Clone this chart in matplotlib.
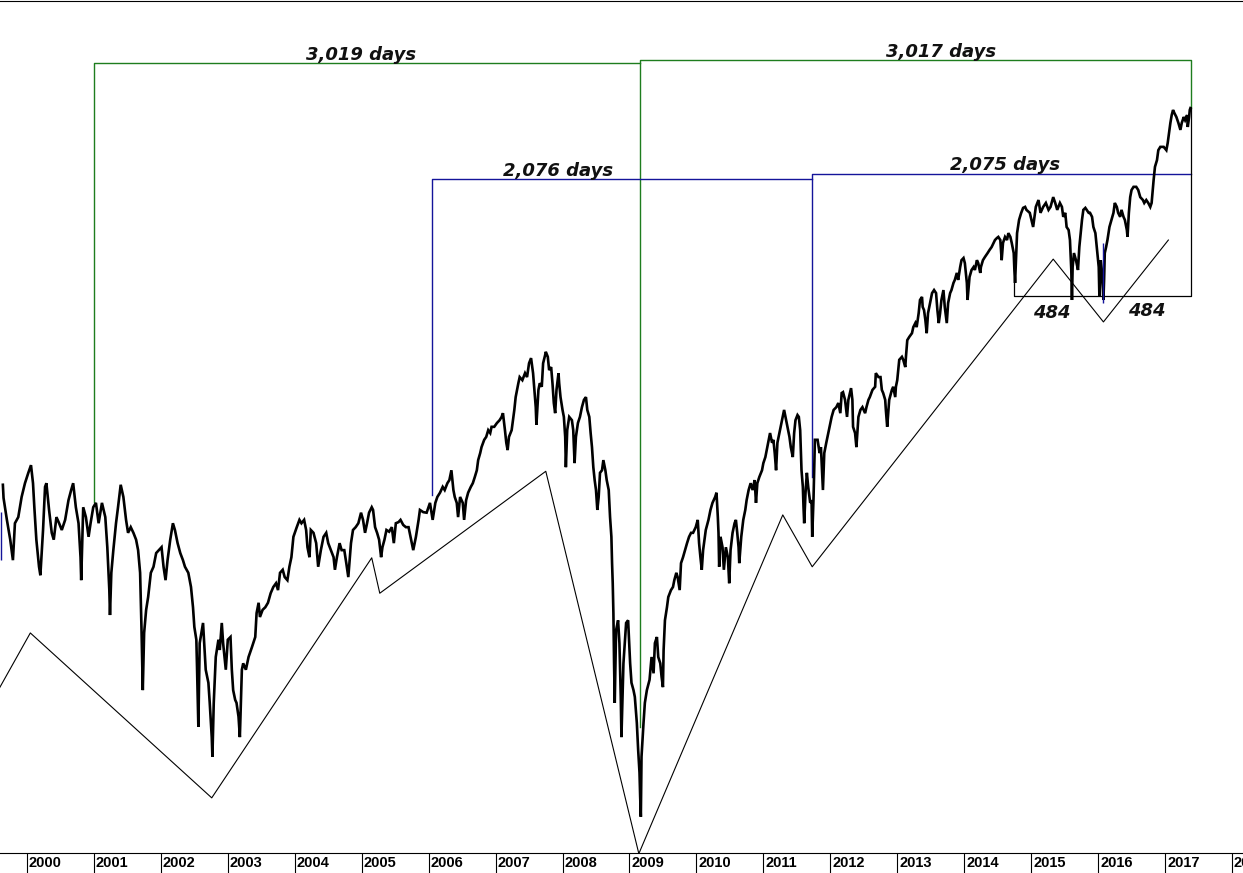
import matplotlib
matplotlib.use("Agg")
import matplotlib.pyplot as plt
from matplotlib.transforms import offset_copy

# Dow Jones daily levels (decimal year, index points)
trade_dates = [
    1999.64, 1999.65, 1999.70, 1999.75, 1999.79, 1999.82, 1999.87, 1999.92, 1999.97, 2000.02,
    2000.06, 2000.09, 2000.11, 2000.14, 2000.18, 2000.20, 2000.24, 2000.27, 2000.29, 2000.33,
    2000.37, 2000.40, 2000.44, 2000.48, 2000.52, 2000.57, 2000.62, 2000.66, 2000.69, 2000.73,
    2000.77, 2000.80, 2000.81, 2000.84, 2000.88, 2000.92, 2000.95, 2000.99, 2001.03, 2001.07,
    2001.12, 2001.17, 2001.20, 2001.23, 2001.24, 2001.26, 2001.29, 2001.33, 2001.36, 2001.40,
    2001.44, 2001.48, 2001.51, 2001.55, 2001.59, 2001.63, 2001.66, 2001.69, 2001.71, 2001.73,
    2001.75, 2001.78, 2001.81, 2001.85, 2001.89, 2001.93, 2001.97, 2002.01, 2002.04, 2002.07,
    2002.10, 2002.14, 2002.18, 2002.21, 2002.25, 2002.29, 2002.33, 2002.36, 2002.41, 2002.45,
    2002.48, 2002.50, 2002.53, 2002.54, 2002.56,
    2002.58, 2002.63, 2002.67, 2002.71, 2002.73, 2002.76, 2002.77, 2002.79, 2002.82, 2002.86,
    2002.88, 2002.91, 2002.93, 2002.97, 2003.00, 2003.04, 2003.06, 2003.08, 2003.11, 2003.13,
    2003.16, 2003.18, 2003.21, 2003.23, 2003.27, 2003.31, 2003.36, 2003.41, 2003.43, 2003.46,
    2003.48, 2003.52, 2003.56, 2003.60, 2003.64, 2003.68, 2003.72, 2003.75, 2003.78, 2003.82,
    2003.85, 2003.89, 2003.92, 2003.95, 2003.98, 2004.03, 2004.07, 2004.10, 2004.14, 2004.17,
    2004.19, 2004.22, 2004.24, 2004.28, 2004.32, 2004.35, 2004.39, 2004.43, 2004.47, 2004.50,
    2004.54, 2004.58, 2004.60, 2004.63, 2004.67, 2004.70, 2004.74, 2004.77, 2004.80, 2004.84,
    2004.87, 2004.91, 2004.95, 2004.99, 2005.02, 2005.05, 2005.08, 2005.11, 2005.15, 2005.17,
    2005.20, 2005.23, 2005.26, 2005.29, 2005.31, 2005.34, 2005.37, 2005.41, 2005.45, 2005.48,
    2005.51, 2005.55, 2005.58, 2005.62, 2005.66, 2005.70, 2005.73, 2005.77, 2005.81, 2005.85,
    2005.87, 2005.92, 2005.97, 2006.02, 2006.06, 2006.10, 2006.13, 2006.17, 2006.21, 2006.24,
    2006.28, 2006.31, 2006.34, 2006.37, 2006.39, 2006.42, 2006.44, 2006.47, 2006.51, 2006.53,
    2006.56, 2006.59, 2006.63, 2006.66, 2006.69, 2006.72, 2006.74, 2006.77, 2006.79, 2006.83,
    2006.86, 2006.89, 2006.92, 2006.94, 2006.98, 2007.02, 2007.06, 2007.09, 2007.11, 2007.14,
    2007.16, 2007.18, 2007.20, 2007.24, 2007.28, 2007.30, 2007.34, 2007.36, 2007.40, 2007.44,
    2007.47, 2007.50, 2007.53, 2007.56, 2007.58, 2007.60, 2007.61, 2007.64, 2007.66, 2007.69,
    2007.71, 2007.74, 2007.75, 2007.78, 2007.80, 2007.83, 2007.85, 2007.87, 2007.89, 2007.91,
    2007.94, 2007.95, 2007.97, 2008.00, 2008.02, 2008.04, 2008.05, 2008.07, 2008.10, 2008.14,
    2008.16, 2008.18, 2008.20, 2008.23, 2008.26, 2008.29, 2008.32, 2008.35, 2008.37, 2008.40,
    2008.42, 2008.44, 2008.46, 2008.48, 2008.50, 2008.52, 2008.54, 2008.56, 2008.59, 2008.61,
    2008.64, 2008.66, 2008.69, 2008.71, 2008.73, 2008.74, 2008.75, 2008.76, 2008.77, 2008.78,
    2008.80, 2008.83, 2008.85, 2008.87, 2008.88, 2008.91, 2008.95, 2008.98, 2009.01, 2009.03,
    2009.06, 2009.08, 2009.11, 2009.13, 2009.15, 2009.16, 2009.17,
    2009.18, 2009.21, 2009.23, 2009.26, 2009.30, 2009.33, 2009.36, 2009.38, 2009.41, 2009.43,
    2009.46, 2009.48, 2009.50, 2009.51, 2009.53, 2009.56, 2009.58, 2009.62, 2009.65, 2009.67,
    2009.70, 2009.72, 2009.75, 2009.77, 2009.80, 2009.83, 2009.86, 2009.89, 2009.92, 2009.95,
    2009.99, 2010.02, 2010.04, 2010.06, 2010.08, 2010.10, 2010.14, 2010.18, 2010.21, 2010.24,
    2010.28, 2010.30, 2010.32, 2010.33, 2010.34, 2010.36, 2010.39, 2010.41, 2010.44, 2010.47,
    2010.49, 2010.51, 2010.54, 2010.57, 2010.59, 2010.61, 2010.63, 2010.64, 2010.67, 2010.70,
    2010.73, 2010.75, 2010.78, 2010.81, 2010.84, 2010.87, 2010.89, 2010.91, 2010.94, 2010.98,
    2011.00, 2011.03, 2011.05, 2011.08, 2011.10, 2011.13, 2011.15, 2011.17, 2011.19, 2011.21,
    2011.24, 2011.26, 2011.29, 2011.31, 2011.34, 2011.36, 2011.39, 2011.41, 2011.44, 2011.46,
    2011.48, 2011.51, 2011.53, 2011.55, 2011.56, 2011.57, 2011.59, 2011.60, 2011.61, 2011.63,
    2011.65, 2011.67, 2011.70, 2011.72, 2011.73, 2011.75,
    2011.77, 2011.81, 2011.84, 2011.86, 2011.89, 2011.91, 2011.94, 2011.97, 2011.99, 2012.02,
    2012.05, 2012.09, 2012.12, 2012.15, 2012.17, 2012.19, 2012.22, 2012.25, 2012.27, 2012.31,
    2012.33, 2012.34, 2012.37, 2012.39, 2012.42, 2012.45, 2012.48, 2012.52, 2012.54, 2012.57,
    2012.59, 2012.63, 2012.67, 2012.68, 2012.72, 2012.75, 2012.77, 2012.79, 2012.82, 2012.83,
    2012.85, 2012.88, 2012.92, 2012.94, 2012.97, 2012.98, 2013.00, 2013.03, 2013.07, 2013.09,
    2013.12, 2013.13, 2013.15, 2013.18, 2013.22, 2013.24, 2013.27, 2013.29, 2013.32, 2013.34,
    2013.37, 2013.38, 2013.40, 2013.42, 2013.44, 2013.46, 2013.49, 2013.52, 2013.55, 2013.58,
    2013.60, 2013.62, 2013.64, 2013.66, 2013.69, 2013.71, 2013.74, 2013.76, 2013.79, 2013.81,
    2013.84, 2013.86, 2013.89, 2013.91, 2013.94, 2013.96, 2013.99, 2014.01, 2014.04, 2014.05,
    2014.08, 2014.11, 2014.14, 2014.16, 2014.19, 2014.21, 2014.24, 2014.25, 2014.28, 2014.31,
    2014.35, 2014.38, 2014.41, 2014.44, 2014.46, 2014.49, 2014.51, 2014.54, 2014.56, 2014.58,
    2014.61, 2014.64, 2014.66, 2014.69, 2014.71, 2014.74, 2014.75, 2014.76, 2014.78, 2014.79,
    2014.82, 2014.85, 2014.88, 2014.91, 2014.93,
    2014.98, 2015.03, 2015.07, 2015.11, 2015.14, 2015.18, 2015.22, 2015.26, 2015.29, 2015.33,
    2015.36, 2015.39, 2015.43, 2015.46, 2015.48, 2015.51, 2015.53, 2015.56, 2015.58, 2015.60,
    2015.61, 2015.62, 2015.64, 2015.67, 2015.70, 2015.72, 2015.76, 2015.78, 2015.81, 2015.83,
    2015.86, 2015.88, 2015.91, 2015.93, 2015.96, 2015.98, 2016.01, 2016.02, 2016.04, 2016.06,
    2016.08, 2016.09, 2016.10, 2016.12, 2016.14, 2016.17, 2016.20, 2016.23, 2016.25, 2016.28,
    2016.30, 2016.33, 2016.35, 2016.38, 2016.40, 2016.43, 2016.44, 2016.46, 2016.48, 2016.50,
    2016.53, 2016.57, 2016.60, 2016.63, 2016.67, 2016.69, 2016.72, 2016.75, 2016.78, 2016.80,
    2016.82, 2016.83, 2016.84, 2016.85, 2016.88, 2016.90, 2016.93, 2016.98, 2017.02, 2017.04,
    2017.06, 2017.08, 2017.10, 2017.12, 2017.14, 2017.17, 2017.20, 2017.23, 2017.25, 2017.28,
    2017.30, 2017.33, 2017.34, 2017.36, 2017.37, 2017.38,
]
dow_level = [
    11340, 11090, 10690, 10340, 9990, 10630, 10740, 11110, 11370, 11570,
    11720, 11370, 10920, 10340, 9880, 9740, 10510, 11300, 11370, 10870,
    10460, 10340, 10740, 10630, 10510, 10690, 11050, 11240, 11370, 10920,
    10630, 10040, 9660, 10920, 10740, 10390, 10630, 10920, 11000, 10630,
    11000, 10740, 10210, 9500, 9110, 9780, 10160, 10630, 10920, 11340,
    11110, 10690, 10460, 10560, 10460, 10340, 10160, 9780, 8930, 8030,
    8840, 9190, 9390, 9780, 9880, 10110, 10160, 10210, 9880, 9660,
    9990, 10340, 10630, 10510, 10280, 10110, 9990, 9880, 9780, 9550,
    9230, 8930, 8740, 8350, 7550,
    8690, 8990, 8310, 8130, 7860, 7420, 7180, 7860, 8490, 8740,
    8590, 8990, 8690, 8310, 8740, 8780, 8310, 8030, 7900, 7860,
    7680, 7420, 8310, 8400, 8310, 8490, 8630, 8780, 9140, 9300,
    9080, 9190, 9230, 9300, 9450, 9550, 9610, 9500, 9780, 9830,
    9710, 9660, 9880, 10040, 10390, 10560, 10690, 10630, 10690, 10510,
    10210, 10040, 10510, 10460, 10280, 9880, 10160, 10390, 10460, 10280,
    10160, 10040, 9830, 10040, 10280, 10160, 10160, 9940, 9710, 10280,
    10510, 10560, 10630, 10820, 10690, 10460, 10630, 10820, 10920, 10870,
    10560, 10460, 10340, 10040, 10210, 10340, 10510, 10480, 10560, 10280,
    10630, 10650, 10690, 10600, 10560, 10560, 10390, 10160, 10390, 10690,
    10870, 10830, 10820, 11000, 10690, 11000, 11110, 11190, 11300, 11240,
    11370, 11430, 11620, 11240, 11110, 11000, 10740, 11110, 11000, 10690,
    11050, 11190, 11300, 11370, 11490, 11620, 11820, 11960, 12080, 12230,
    12290, 12430, 12370, 12500, 12500, 12580, 12640, 12710, 12790, 12430,
    12170, 12020, 12290, 12430, 12860, 13140, 13450, 13590, 13520, 13680,
    13590, 13910, 14030, 13680, 13300, 12920, 12540, 13300, 13450, 13370,
    13910, 14100, 14180, 14060, 13750, 13820, 13450, 13010, 12790, 13300,
    13680, 13450, 13140, 12860, 12710, 12290, 11680, 12430, 12710, 12640,
    12430, 11760, 12290, 12580, 12710, 12920, 13080, 13140, 12860, 12710,
    12370, 12080, 11680, 11430, 11240, 10870, 11110, 11570, 11620, 11820,
    11620, 11430, 11240, 10740, 10390, 9940, 9610, 9140, 8400, 7860,
    8880, 9030, 8690, 7940, 7420, 8400, 8990, 9030, 8400, 8130,
    8030, 7940, 7600, 7260, 6990, 6710, 6490,
    7180, 7600, 7860, 8030, 8170, 8490, 8260, 8690, 8780, 8490,
    8400, 8210, 8070, 8590, 9030, 9230, 9390, 9500, 9550, 9660,
    9780, 9710, 9500, 9940, 10040, 10160, 10280, 10390, 10460, 10460,
    10560, 10690, 10280, 10040, 9830, 10160, 10510, 10690, 10870, 11000,
    11110, 11190, 10740, 10460, 9880, 10390, 10210, 9830, 10210, 10040,
    9610, 10160, 10460, 10630, 10690, 10460, 10210, 9940, 10390, 10690,
    10870, 11050, 11240, 11370, 11240, 11430, 11000, 11370, 11490, 11620,
    11760, 11880, 12020, 12230, 12370, 12170, 12230, 11960, 11620, 12170,
    12370, 12500, 12710, 12860, 12640, 12500, 12290, 12080, 11880, 12370,
    12640, 12750, 12710, 12430, 12020, 11620, 11300, 10920, 10630, 11190,
    11570, 11300, 11000, 11050, 10390, 11110,
    12230, 12230, 11960, 12080, 11240, 11960, 12170, 12370, 12500, 12710,
    12860, 12920, 13010, 12790, 13230, 13250, 13080, 12710, 13080, 13340,
    13080, 12500, 12370, 12080, 12710, 12860, 12920, 12790, 12920, 13080,
    13140, 13300, 13370, 13680, 13590, 13590, 13300, 13230, 13080, 12860,
    12500, 13080, 13300, 13370, 13140, 13370, 13520, 13990, 14060, 13990,
    13820, 14060, 14460, 14540, 14630, 14780, 14880, 14780, 15130, 15470,
    15550, 15290, 15210, 14960, 14630, 15130, 15390, 15650, 15730, 15650,
    15210, 14880, 15130, 15470, 15730, 15290, 14880, 15390, 15650, 15730,
    15920, 16000, 16190, 16000, 16350, 16540, 16600, 16460, 15920, 15470,
    16080, 16270, 16350, 16270, 16540, 16460, 16190, 16350, 16540, 16630,
    16740, 16830, 16910, 17030, 17110, 17170, 17200, 17110, 16540, 17030,
    17200, 17110, 17310, 17200, 17030, 16740, 16270, 15920, 16830, 17310,
    17700, 17900, 18060, 18090, 18000,
    17910, 17490, 18090, 18300, 17910, 18090, 18210, 18000, 18090, 18390,
    18210, 18000, 18210, 18090, 17790, 17910, 17490, 17400, 17110, 16270,
    15470, 16350, 16740, 16540, 16270, 16910, 17700, 18000, 18060, 18000,
    17910, 17910, 17790, 17490, 17310, 16910, 16350, 15550, 16540, 16190,
    15470, 16000, 16740, 16910, 17110, 17490, 17700, 17910, 18210, 18090,
    17910, 17790, 18000, 17790, 17700, 17400, 17200, 17910, 18390, 18610,
    18710, 18710, 18610, 18390, 18300, 18210, 18300, 18210, 18090, 18210,
    18710, 18930, 19150, 19350, 19570, 19900, 20010, 20010, 19900, 20140,
    20480, 20830, 21110, 21290, 21180, 21040, 20830, 20590, 20830, 21040,
    20930, 21110, 20690, 21040, 21290, 21360,
]

# projected cycle zigzag drawn under the price
cycle_dates = [1999.59, 2000.05, 2002.76, 2005.15, 2005.27, 2007.75, 2009.14,
               2011.29, 2011.73, 2015.33, 2016.08, 2017.05]
cycle_levels = [8060, 8840, 6700, 10030, 9450, 11600, 6100,
                10780, 9880, 16570, 14910, 17110]

# time-span brackets (green = 3,0xx days, blue = 2,07x days)
green_a_dates = [2001.00, 2001.00, 2009.15]
green_a_levels = [11020, 23040, 23040]
green_b_dates = [2009.15, 2009.15, 2017.39, 2017.39]
green_b_levels = [7550, 23160, 23160, 21360]
blue_a_dates = [2006.05, 2006.05, 2011.73]
blue_a_levels = [11150, 18960, 18960]
blue_b_dates = [2011.73, 2011.73, 2017.39]
blue_b_levels = [11490, 19120, 19120]
box_dates = [2014.75, 2014.75, 2017.39, 2017.39]
box_levels = [15920, 15570, 15570, 21360]
marker_dates = [1999.61, 2016.07]
marker_low = [9990, 15390]
marker_high = [10830, 17030]

span_labels = ["3,019 days", "3,017 days", "2,076 days", "2,075 days", "484", "484"]
label_dates = [2004.99, 2013.66, 2007.93, 2014.61, 2015.31, 2016.73]
label_levels = [23160, 23270, 19050, 19250, 15010, 15060]

years = list(range(2000, 2019))

fig = plt.figure(figsize=(12.43, 8.73), dpi=100)
ax = fig.add_axes([0, 20 / 873, 1, 852 / 873])
ax.set_yscale("log")
ax.set_xlim(1999.597, 2018.165)
ax.set_ylim(6107, 25570)

green = "#1e7d1e"
blue = "#14149a"

ax.plot(cycle_dates, cycle_levels, color="black", lw=0.8)
ax.plot(green_a_dates, green_a_levels, color=green, lw=1.0)
ax.plot(green_b_dates, green_b_levels, color=green, lw=1.0)
ax.plot(blue_a_dates, blue_a_levels, color=blue, lw=1.0)
ax.plot(blue_b_dates, blue_b_levels, color=blue, lw=1.0)
ax.plot(box_dates, box_levels, color="black", lw=0.9)
ax.plot(trade_dates, dow_level, color="black", lw=1.9, solid_joinstyle="miter")
ax.vlines(marker_dates, marker_low, marker_high, color=blue, lw=1.0)

for txt, x, y in zip(span_labels, label_dates, label_levels):
    ax.text(x, y, txt, ha="center", va="baseline", fontsize=13,
            fontweight="bold", fontstyle="italic", family="DejaVu Sans",
            color="#111111")

# axis styling: only the top frame and the date strip at the bottom
for side in ["left", "right"]:
    ax.spines[side].set_visible(False)
ax.spines["top"].set_linewidth(0.8)
ax.spines["bottom"].set_linewidth(0.8)
ax.tick_params(axis="y", which="both", left=False, labelleft=False)
ax.set_xticks(years)
ax.tick_params(axis="x", which="both", direction="out", length=14.4, width=0.8,
               labelbottom=False)
ax.xaxis.set_minor_locator(matplotlib.ticker.NullLocator())

lab_tr = offset_copy(ax.get_xaxis_transform(), fig=fig, x=2, y=-10, units="dots")
for yr in years:
    ax.text(yr, 0, str(yr), transform=lab_tr, ha="left", va="center",
            fontsize=10.5, fontweight="bold", family="Liberation Sans",
            clip_on=False)

fig.savefig("out.png", dpi=100)
